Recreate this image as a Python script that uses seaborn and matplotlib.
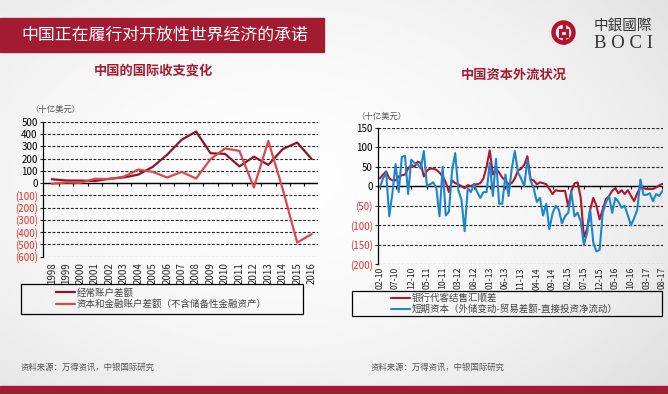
import numpy as np
import pandas as pd
import matplotlib
matplotlib.use('Agg')
import matplotlib.pyplot as plt
from matplotlib.patches import Rectangle, Circle
import seaborn as sns

# -------------------------
# Data
# -------------------------
years = list(range(1998, 2017))
current_account = [31, 21, 20, 17, 35, 46, 69, 132, 232, 353, 420, 243, 238, 136, 215, 148, 277, 330, 196]
capital_account = [-6, 5, 2, 35, 32, 53, 110, 91, 45, 91, 37, 195, 282, 262, -36, 343, -51, -485, -416]

month_ticks = ['02-10', '07-10', '12-10', '05-11', '10-11', '03-12', '08-12', '01-13', '06-13',
               '11-13', '04-14', '09-14', '02-15', '07-15', '12-15', '05-16', '10-16', '03-17', '08-17']
bank_fx_surplus = [20, 30, 38, 20, 15, 15, 25, 28, 30, 45, 55, 50, 63, 60, 25, 40, 45,
                   45, 42, 35, 25, 10, -15, 15, 8, 5, 0, -5, 3, 0,
                   5, 5, 8, 20, 50, 92,
                   30, 45, 35, 22, 15, 5, 8, 20, 40, 45, 55,
                   77, 18, 15, 5, 10, 8, 5,
                   -7, -20, -10, -12, -12, -12, -52, -12, 7, 10, -30, -130, -110, -60, -30, -50,
                   -85, -60, -33, -25, -12, -5, -18, -10, -20, -10, -25, -38, -18, -3, -5, -7,
                   -7, -7, -3, 2, 6]
short_term_capital = [-3, 20, 35, -77, -17, 57, -15, 75, 78, -20, 68, 60, 57, 45, 90, 0, 5, 10, -5, -77,
                      50, -75, -65, 40, 85,
                      -10, -35, -115, -5, -15, 5, -15, -30, -15, -15, 60, -25, 70, -45, -45, 30, -25,
                      45, 90, 35, 20, 0, 68, 15, -5, -40, -30, -75, -45, -110,
                      -70, -50, -60, -95, -77, -68, -15, -77, -68, -90, -150, -120, -60, -145, -167,
                      -163, -68, -42, -25, -68, -30, -40, -55, -50, -75, -100, -82, -60, 17, -22,
                      -22, -18, -38, -20, -25, -12]

unit_label = '（十亿美元）'
left_title = '中国的国际收支变化'
right_title = '中国资本外流状况'
left_names = ['经常账户差额', '资本和金融账户差额（不含储备性金融资产）']
right_names = ['银行代客结售汇顺差', '短期资本（外储变动-贸易差额-直接投资净流动）']
source_note = '资料来源：万得资讯，中银国际研究'
headline = '中国正在履行对开放性世界经济的承诺'

# -------------------------
# Style
# -------------------------
W, H = 668, 394
BRAND_RED = '#A31B31'

sns.set_theme(style='white')
plt.rcParams['font.family'] = ['Noto Sans CJK SC', 'DejaVu Sans']
plt.rcParams['axes.unicode_minus'] = False


def fx(px):
    return px / W


def fy(py):
    return 1 - py / H


def acct_label(v):
    if v < 0:
        return '(%d)' % abs(v)
    return '%d' % v


def style_axis(ax, ticks, xlim):
    ax.patch.set_alpha(0)
    ax.set_xlim(*xlim)
    ax.set_ylim(ticks[0], ticks[-1])
    ax.set_yticks(ticks, labels=[acct_label(t) for t in ticks])
    for lab, t in zip(ax.get_yticklabels(), ticks):
        lab.set_color('#E0312E' if t < 0 else 'black')
    ax.grid(False)
    ax.yaxis.grid(True, linestyle=(0, (2.5, 1.6)), color='#222222', linewidth=0.8)
    ax.axhline(0, color='black', linewidth=1.0, zorder=1.5)
    for s in ['top', 'right']:
        ax.spines[s].set_visible(False)
    ax.spines['left'].set_color('black')
    ax.spines['left'].set_linewidth(0.9)
    ax.spines['bottom'].set_position(('data', 0))
    ax.spines['bottom'].set_visible(False)
    ax.tick_params(axis='y', left=True, length=2.5, width=0.8, labelsize=7, pad=1.5)
    ax.tick_params(axis='x', bottom=True, direction='out', length=2.5, width=0.8,
                   color='black', labelbottom=False)
    ax.set_xlabel('')
    ax.set_ylabel('')


fig = plt.figure(figsize=(W / 100, H / 100), dpi=100)

# soft grey page background
bg = fig.add_axes([0, 0, 1, 1], zorder=-10)
yy, xx = np.mgrid[0:1:200j, 0:1:300j]
shade = 0.99 - 0.16 * ((xx - 0.42) ** 2 * 1.3 + (yy - 0.55) ** 2 * 1.1)
bg.imshow(shade, cmap='gray', vmin=0, vmax=1, aspect='auto', extent=[0, 1, 0, 1], origin='lower')
bg.axis('off')

# headline bar + bottom strip
fig.patches.append(Rectangle((0, fy(52)), fx(324), fy(18) - fy(52), transform=fig.transFigure,
                             color=BRAND_RED, zorder=1))
fig.text(fx(21), fy(35), headline, color='white', fontsize=12.2, va='center', ha='left')
fig.patches.append(Rectangle((0, 0), 1, fy(386), transform=fig.transFigure,
                             color=BRAND_RED, zorder=1))

# logo
logo = fig.add_axes([fx(551), fy(45), fx(25), fy(20) - fy(45)])
logo.set_xlim(-1.25, 1.25)
logo.set_ylim(-1.25, 1.25)
logo.set_aspect('equal')
logo.axis('off')
logo.add_patch(Circle((0, 0), 1.0, fill=False, lw=3.2, color='#B5122E'))
logo.add_patch(Rectangle((-0.36, -0.3), 0.72, 0.6, fill=False, lw=2.2, color='#B5122E'))
logo.plot([0, 0], [0.3, 1.0], color='#B5122E', lw=2.4)
logo.plot([0, 0], [-1.0, -0.3], color='#B5122E', lw=2.4)
fig.text(fx(623), fy(26), '中銀國際', family=['Noto Sans CJK TC', 'DejaVu Sans'],
         fontsize=10.5, color='#333333', ha='center', va='center')
fig.text(fx(623), fy(44), 'B O C I', family='Liberation Serif', fontsize=13.5,
         color='#333333', ha='center', va='center')

# -------------------------
# Left: balance of payments
# -------------------------
ax1 = fig.add_axes([fx(43.3), fy(256.7), fx(318) - fx(43.3), fy(121.7) - fy(256.7)])
bop = pd.DataFrame({'year': years, 'ca': current_account, 'ka': capital_account})
sns.lineplot(data=bop, x='year', y='ca', ax=ax1, color='#8E1427', linewidth=1.6, label=left_names[0])
sns.lineplot(data=bop, x='year', y='ka', ax=ax1, color='#D9474F', linewidth=1.6, label=left_names[1])
style_axis(ax1, list(range(-600, 501, 100)), (years[0] - 0.58, years[-1] + 0.44))
ax1.set_xticks([y + 0.5 for y in years[:-1]])
sec1 = ax1.secondary_xaxis('bottom')
sec1.set_xticks(years, labels=[str(y) for y in years])
sec1.tick_params(length=0, rotation=90, labelsize=7, pad=4)
sec1.spines['bottom'].set_visible(False)

fig.text(fx(153), fy(71), left_title, color=BRAND_RED, fontsize=9.5, fontweight='bold',
         ha='center', va='center')
fig.text(fx(30), fy(109), unit_label, color='#555555', fontsize=6, ha='left', va='center')

h, l = ax1.get_legend_handles_labels()
ax1.legend(h, l, loc='upper left', bbox_to_anchor=(fx(56), fy(288)), bbox_transform=fig.transFigure,
           frameon=False, fontsize=6.8, labelcolor='#444444', handlelength=2.0, handletextpad=0.2,
           labelspacing=0.2, borderpad=0, borderaxespad=0)
fig.patches.append(Rectangle((fx(21), fy(314)), fx(303) - fx(21), fy(284) - fy(314),
                             transform=fig.transFigure, fill=False, edgecolor='black', lw=0.9, zorder=2))
fig.text(fx(21), fy(367), source_note, color='#555555', fontsize=6, ha='left', va='center')

# -------------------------
# Right: capital outflow
# -------------------------
ax2 = fig.add_axes([fx(378.3), fy(264.3), fx(663) - fx(378.3), fy(127.7) - fy(264.3)])
flows = pd.DataFrame({'m': np.arange(len(bank_fx_surplus)), 'bank': bank_fx_surplus,
                      'short': short_term_capital})
sns.lineplot(data=flows, x='m', y='bank', ax=ax2, color='#B01530', linewidth=1.5, label=right_names[0])
sns.lineplot(data=flows, x='m', y='short', ax=ax2, color='#1B86CE', linewidth=1.5, label=right_names[1])
style_axis(ax2, list(range(-200, 151, 50)), (-0.5, len(bank_fx_surplus) - 1 + 0.2))
tick_pos = list(range(0, len(bank_fx_surplus), 5))
ax2.set_xticks(tick_pos)
sec2 = ax2.secondary_xaxis('bottom')
sec2.set_xticks(tick_pos, labels=month_ticks)
sec2.tick_params(length=0, rotation=90, labelsize=6.3, pad=2)
sec2.spines['bottom'].set_visible(False)

fig.text(fx(514), fy(75), right_title, color=BRAND_RED, fontsize=9.5, fontweight='bold',
         ha='center', va='center')
fig.text(fx(356), fy(116), unit_label, color='#555555', fontsize=6, ha='left', va='center')

h, l = ax2.get_legend_handles_labels()
ax2.legend(h, l, loc='upper left', bbox_to_anchor=(fx(391), fy(293)), bbox_transform=fig.transFigure,
           frameon=False, fontsize=6.8, labelcolor='#444444', handlelength=2.0, handletextpad=0.2,
           labelspacing=0.15, borderpad=0, borderaxespad=0)
fig.patches.append(Rectangle((fx(352), fy(316)), fx(662) - fx(352), fy(291) - fy(316),
                             transform=fig.transFigure, fill=False, edgecolor='black', lw=0.9, zorder=2))
fig.text(fx(371), fy(367), source_note, color='#555555', fontsize=6, ha='left', va='center')

fig.savefig('out.png', dpi=100)
